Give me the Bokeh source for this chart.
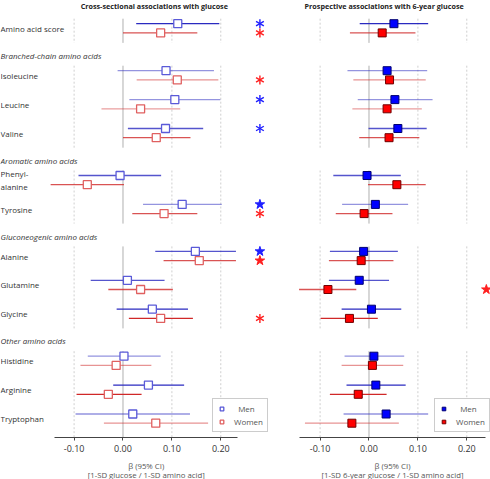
from bokeh.plotting import figure
from bokeh.models import (ColumnDataSource, Range1d, LinearAxis, FixedTicker,
                          NumeralTickFormatter, Legend, LegendItem)
from bokeh.layouts import row, column
from bokeh.core.properties import value
from bokeh.embed import file_html
from bokeh.resources import INLINE

# ---------------- data ----------------
group_titles = [None, "Branched-chain amino acids", "Aromatic amino acids",
                "Gluconeogenic amino acids", "Other amino acids"]
group_sizes = [1, 3, 2, 3, 3]
names = ["Amino acid score", "Isoleucine", "Leucine", "Valine", "Phenyl-\nalanine",
         "Tyrosine", "Alanine", "Glutamine", "Glycine", "Histidine", "Arginine", "Tryptophan"]

# cross-sectional (beta, lower, upper)
cs_men_est = [0.112, 0.088, 0.106, 0.087, -0.006, 0.121, 0.148, 0.009, 0.060, 0.002, 0.052, 0.020]
cs_men_lo = [0.027, -0.011, 0.013, 0.010, -0.091, 0.041, 0.066, -0.066, -0.013, -0.072, -0.020, -0.097]
cs_men_hi = [0.197, 0.186, 0.199, 0.164, 0.078, 0.202, 0.231, 0.085, 0.133, 0.077, 0.125, 0.137]
cs_wom_est = [0.077, 0.111, 0.036, 0.068, -0.073, 0.084, 0.156, 0.036, 0.077, -0.014, -0.030, 0.067]
cs_wom_lo = [0.000, 0.028, -0.044, 0.000, -0.148, 0.019, 0.083, -0.030, 0.012, -0.087, -0.095, -0.039]
cs_wom_hi = [0.152, 0.195, 0.117, 0.138, 0.002, 0.152, 0.231, 0.102, 0.143, 0.058, 0.038, 0.174]

# prospective (beta, lower, upper)
pr_men_est = [0.051, 0.037, 0.053, 0.059, -0.004, 0.013, -0.011, -0.020, 0.005, 0.010, 0.014, 0.035]
pr_men_lo = [-0.019, -0.044, -0.023, -0.001, -0.073, -0.055, -0.080, -0.082, -0.056, -0.050, -0.046, -0.052]
pr_men_hi = [0.121, 0.119, 0.130, 0.118, 0.065, 0.080, 0.059, 0.041, 0.066, 0.072, 0.075, 0.121]
pr_wom_est = [0.027, 0.042, 0.037, 0.041, 0.057, -0.010, -0.016, -0.084, -0.040, 0.007, -0.022, -0.035]
pr_wom_lo = [-0.039, -0.032, -0.034, -0.020, -0.002, -0.068, -0.082, -0.143, -0.099, -0.056, -0.080, -0.131]
pr_wom_hi = [0.095, 0.116, 0.108, 0.103, 0.116, 0.048, 0.050, -0.026, 0.018, 0.070, 0.036, 0.061]

# significance marks ("*" asterisk, "star" filled star)
cs_men_sig = ["*", "", "*", "*", "", "star", "star", "", "", "", "", ""]
cs_wom_sig = ["*", "*", "", "", "", "*", "star", "", "*", "", "", ""]
pr_men_sig = ["", "", "", "", "", "", "", "", "", "", "", ""]
pr_wom_sig = ["", "", "", "", "", "", "", "star", "", "", "", ""]

tick_values = [-0.10, 0.00, 0.10, 0.20]
legend_labels = ["\u00a0\u00a0Men", "Women"]

# ---------------- styles / layout ----------------
shade_men = [1.0, 0.5, 0.5, 0.8, 0.8, 0.5, 0.8, 0.8, 1.0, 0.5, 1.0, 0.5]
shade_wom = [0.8, 0.5, 0.45, 0.8, 0.8, 0.8, 0.8, 0.8, 1.0, 0.5, 1.0, 0.5]

MEN_LINE = "#2a2ac0"
WOM_LINE = "#d02828"
FONT = "Open Sans"

FIRST_Y, ROW_STEP, GROUP_GAP, PAIR, HEADER_ABOVE, AXIS_Y = 27.8, 28.9, 18.1, 4.6, 20.0, 437
TICK_AREA = 19
LABEL_H = 479 - AXIS_Y - TICK_AREA

row_y, header_y, spans = [], [], []
y = FIRST_Y
for gi, n in enumerate(group_sizes):
    if gi > 0:
        y += GROUP_GAP
    header_y.append(y - HEADER_ABOVE)
    first = y
    for _ in range(n):
        row_y.append(y)
        y += ROW_STEP
    last = row_y[-1]
    bottom = AXIS_Y if gi == len(group_sizes) - 1 else last + PAIR + 10
    spans.append((first - PAIR - 5, bottom))

y_men = [v - PAIR for v in row_y]
y_wom = [v + PAIR for v in row_y]


def make_panel(width, xr, bounds, title, title_x, axis_label, filled, sig_x,
               sig_men, sig_wom, legend_x, labels):
    p = figure(frame_width=width, frame_height=AXIS_Y, x_range=Range1d(*xr),
               y_range=Range1d(AXIS_Y, 0),
               x_axis_location=None, y_axis_location=None, toolbar_location=None,
               output_backend="svg", min_border=0, min_border_bottom=TICK_AREA,
               outline_line_color=None)
    p.grid.visible = False

    # group reference lines
    for (t, b) in spans:
        for tv in tick_values:
            if tv == 0:
                p.segment(x0=[tv], y0=[t], x1=[tv], y1=[b], line_color="#b0b0b0", line_width=1)
            else:
                p.segment(x0=[tv], y0=[t], x1=[tv], y1=[b], line_color="#cfcfcf",
                          line_width=1, line_dash="2 2")

    est_m, lo_m, hi_m, est_w, lo_w, hi_w = filled[1]
    src_m = ColumnDataSource(dict(y=y_men, est=est_m, lo=lo_m, hi=hi_m, a=shade_men))
    src_w = ColumnDataSource(dict(y=y_wom, est=est_w, lo=lo_w, hi=hi_w, a=shade_wom))
    p.segment(x0="lo", y0="y", x1="hi", y1="y", source=src_m, line_color=MEN_LINE,
              line_alpha="a", line_width=1.3)
    p.segment(x0="lo", y0="y", x1="hi", y1="y", source=src_w, line_color=WOM_LINE,
              line_alpha="a", line_width=1.3)
    if filled[0]:
        rm = p.scatter(x="est", y="y", source=src_m, marker="square", size=8,
                       fill_color="#0000ff", line_color="#000070", line_width=1)
        rw = p.scatter(x="est", y="y", source=src_w, marker="square", size=8,
                       fill_color="#ff0000", line_color="#700000", line_width=1)
    else:
        rm = p.scatter(x="est", y="y", source=src_m, marker="square", size=8,
                       fill_color="white", line_color="#5a5ad8", line_width=1.3)
        rw = p.scatter(x="est", y="y", source=src_w, marker="square", size=8,
                       fill_color="white", line_color="#e06060", line_width=1.3)

    # significance marks
    for sigs, ys, col in ((sig_men, y_men, "#2020ff"), (sig_wom, y_wom, "#ff2020")):
        ast_y = [yy for s, yy in zip(sigs, ys) if s == "*"]
        star_y = [yy for s, yy in zip(sigs, ys) if s == "star"]
        if ast_y:
            for ang in (1.5708, 0.5236, -0.5236):
                p.scatter(x=[sig_x] * len(ast_y), y=ast_y, marker="dash", size=9,
                          angle=ang, line_color=col, line_width=1.4)
        if star_y:
            p.scatter(x=[sig_x] * len(star_y), y=star_y, marker="star", size=10,
                      fill_color=col, line_color=col)

    # titles
    p.text(x=[title_x], y=[5], text=[title], text_align="center", text_baseline="middle",
           text_font=value(FONT), text_font_size="7.2px", text_font_style="bold",
           text_color="#222222")

    if labels:
        p.text(x=[xr[0]] * len(names), y=row_y, text=names, text_align="left",
               text_baseline="middle", text_font=value(FONT), text_font_size="8px",
               text_color="#333333")
        hx = [xr[0] for g in group_titles if g]
        hy = [h for g, h in zip(group_titles, header_y) if g]
        ht = [g for g in group_titles if g]
        p.text(x=hx, y=hy, text=ht, text_align="left", text_baseline="middle",
               text_font=value(FONT), text_font_size="8px", text_font_style="italic",
               text_color="#333333")

    ax = LinearAxis(ticker=FixedTicker(ticks=tick_values),
                    formatter=NumeralTickFormatter(format="0.00"), bounds=bounds)
    ax.major_tick_in = 0
    ax.major_tick_out = 3
    ax.minor_tick_line_color = None
    ax.axis_line_color = "#444444"
    ax.major_tick_line_color = "#444444"
    ax.major_label_text_font = FONT
    ax.major_label_text_font_size = "9px"
    ax.major_label_text_color = "#333333"
    ax.major_label_standoff = 4
    p.add_layout(ax, "below")

    legend = Legend(items=[LegendItem(label=legend_labels[0], renderers=[rm]),
                           LegendItem(label=legend_labels[1], renderers=[rw])],
                    location=(legend_x, 5), orientation="vertical")
    legend.border_line_color = "#999999"
    legend.background_fill_color = "white"
    legend.background_fill_alpha = 1
    legend.label_text_font = FONT
    legend.label_text_font_size = "8px"
    legend.label_text_color = "#555555"
    legend.glyph_height = 9
    legend.glyph_width = 9
    legend.label_height = 9
    legend.label_standoff = 8
    legend.spacing = 2
    legend.padding = 4
    legend.margin = 0
    p.add_layout(legend, "center")

    # axis title (two lines) in a strip below the panel
    q = figure(width=width, height=LABEL_H, x_range=p.x_range, y_range=Range1d(LABEL_H, 0),
               x_axis_location=None, y_axis_location=None, toolbar_location=None,
               output_backend="svg", min_border=0, outline_line_color=None)
    q.grid.visible = False
    cx = (bounds[0] + bounds[1]) / 2
    q.text(x=[cx, cx], y=[LABEL_H * 0.4, LABEL_H * 0.82], text=axis_label,
           text_align="center", text_baseline="middle", text_font=value(FONT),
           text_font_size="7.8px", text_color="#555555")
    return column(p, q, spacing=0)


p1 = make_panel(280, (-0.2505, 0.3221), (-0.14, 0.235),
                "Cross-sectional associations with glucose", 0.064,
                ["β (95% CI)", "[1-SD glucose / 1-SD amino acid]"],
                (False, (cs_men_est, cs_men_lo, cs_men_hi, cs_wom_est, cs_wom_lo, cs_wom_hi)),
                0.28, cs_men_sig, cs_wom_sig, 212, True)
p2 = make_panel(210, (-0.181, 0.2485), (-0.143, 0.239),
                "Prospective associations with 6-year glucose", 0.031,
                ["β (95% CI)", "[1-SD 6-year glucose / 1-SD amino acid]"],
                (True, (pr_men_est, pr_men_lo, pr_men_hi, pr_wom_est, pr_wom_lo, pr_wom_hi)),
                0.240, pr_men_sig, pr_wom_sig, 154, False)

layout = row(p1, p2, spacing=0)
open("out.html", "w").write(file_html(layout, INLINE))
